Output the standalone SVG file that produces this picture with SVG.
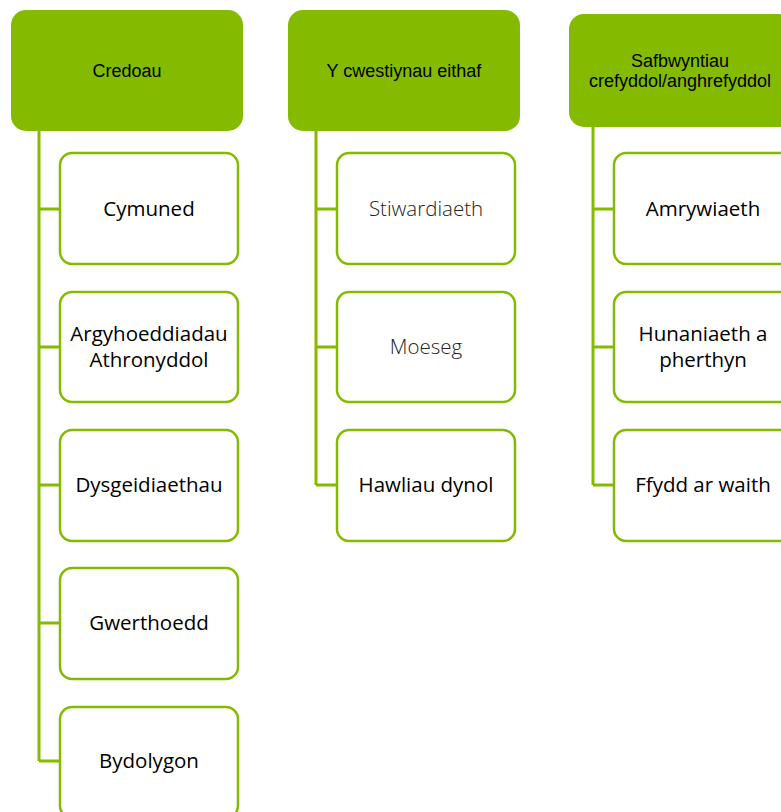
<svg xmlns="http://www.w3.org/2000/svg" width="781" height="812" viewBox="0 0 781 812">
<style>
.hd{fill:#84BB00;}
.ch{fill:#FFFFFF;stroke:#84BB00;stroke-width:2.5;}
.ln{fill:none;stroke:#84BB00;stroke-width:3;}
.ht{font-family:"Liberation Sans",Arial,sans-serif;font-size:18px;fill:#000;text-anchor:middle;}
.ct{font-family:"Open Sans","Noto Sans",sans-serif;font-size:20.5px;fill:#000;text-anchor:middle;}
.lt{font-weight:300;fill:#222;}
</style>
<rect width="781" height="812" fill="#FFFFFF"/>
<g id="connectors">
<path class="ln" d="M39 130 V761 M39 209 H60 M39 347 H60 M39 485 H60 M39 623 H60 M39 761 H60"/>
<path class="ln" d="M316 130 V485 M316 209 H337 M316 347 H337 M316 485 H337"/>
<path class="ln" d="M593 126 V485 M593 209 H614 M593 347 H614 M593 485 H614"/>
</g>
<g id="credoau"><rect class="hd" x="11" y="10" width="232" height="121" rx="15"/><text class="ht" x="127" y="77">Credoau</text></g>
<g id="cymuned"><rect class="ch" x="60" y="153" width="178" height="111" rx="12"/><text class="ct" x="149" y="216">Cymuned</text></g>
<g id="argyhoeddiadau"><rect class="ch" x="60" y="292" width="178" height="110" rx="12"/><text class="ct" x="149" y="341">Argyhoeddiadau</text><text class="ct" x="149" y="367">Athronyddol</text></g>
<g id="dysgeidiaethau"><rect class="ch" x="60" y="430" width="178" height="111" rx="12"/><text class="ct" x="149" y="492">Dysgeidiaethau</text></g>
<g id="gwerthoedd"><rect class="ch" x="60" y="568" width="178" height="111" rx="12"/><text class="ct" x="149" y="630">Gwerthoedd</text></g>
<g id="bydolygon"><rect class="ch" x="60" y="707" width="178" height="111" rx="12"/><text class="ct" x="149" y="768">Bydolygon</text></g>
<g id="cwestiynau"><rect class="hd" x="288" y="10" width="232" height="121" rx="15"/><text class="ht" x="404" y="77">Y cwestiynau eithaf</text></g>
<g id="stiwardiaeth"><rect class="ch" x="337" y="153" width="178" height="111" rx="12"/><text class="ct lt" x="426" y="216">Stiwardiaeth</text></g>
<g id="moeseg"><rect class="ch" x="337" y="292" width="178" height="110" rx="12"/><text class="ct lt" x="426" y="354">Moeseg</text></g>
<g id="hawliau"><rect class="ch" x="337" y="430" width="178" height="111" rx="12"/><text class="ct" x="426" y="492">Hawliau dynol</text></g>
<g id="safbwyntiau"><rect class="hd" x="569" y="14" width="224" height="113" rx="15"/><text class="ht" x="680" y="67">Safbwyntiau</text><text class="ht" x="680" y="87">crefyddol/anghrefyddol</text></g>
<g id="amrywiaeth"><rect class="ch" x="614" y="153" width="178" height="111" rx="12"/><text class="ct" x="703" y="216">Amrywiaeth</text></g>
<g id="hunaniaeth"><rect class="ch" x="614" y="292" width="178" height="110" rx="12"/><text class="ct" x="703" y="341">Hunaniaeth a</text><text class="ct" x="703" y="367">pherthyn</text></g>
<g id="ffydd"><rect class="ch" x="614" y="430" width="178" height="111" rx="12"/><text class="ct" x="703" y="492">Ffydd ar waith</text></g>
</svg>
